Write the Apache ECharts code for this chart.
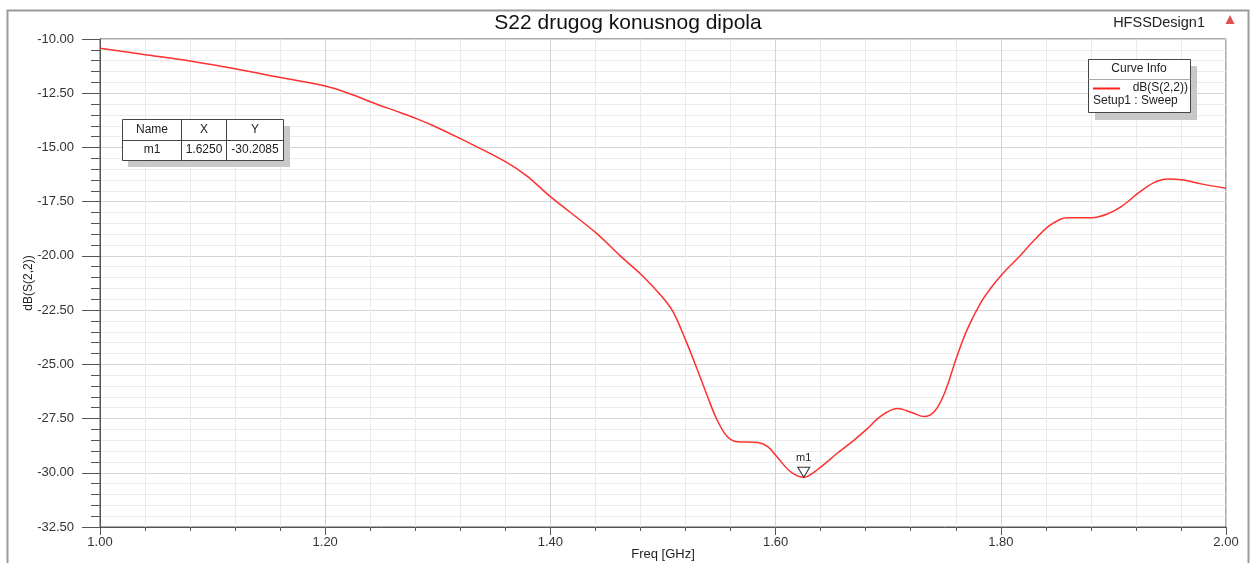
<!DOCTYPE html>
<html>
<head>
<meta charset="utf-8">
<script src="https://cdn.jsdelivr.net/npm/echarts@6/dist/echarts.min.js"></script>
<style>
html,body{margin:0;padding:0;background:#fff;}
#c{width:1251px;height:563px;}
</style>
</head>
<body>
<div id="c"></div>
<script>
var freq = [1.000,1.039,1.080,1.121,1.160,1.200,1.225,1.240,1.267,1.281,1.296,1.321,1.360,1.379,1.400,1.441,1.462,1.481,1.499,1.509,1.521,1.530,1.539,1.548,1.557,1.566,1.584,1.593,1.601,1.613,1.625,1.637,1.655,1.670,1.681,1.693,1.708,1.721,1.732,1.741,1.750,1.761,1.770,1.782,1.791,1.802,1.815,1.830,1.842,1.853,1.859,1.881,1.895,1.907,1.922,1.936,1.948,1.962,1.978,2.000];
var s22 = [-10.43,-10.71,-11.01,-11.38,-11.78,-12.17,-12.58,-12.89,-13.40,-13.67,-14.00,-14.62,-15.65,-16.31,-17.27,-18.96,-20.00,-20.88,-21.87,-22.58,-24.00,-25.18,-26.41,-27.56,-28.33,-28.57,-28.60,-28.79,-29.25,-29.94,-30.21,-29.86,-29.09,-28.48,-27.99,-27.41,-27.04,-27.22,-27.41,-27.18,-26.33,-24.64,-23.41,-22.18,-21.49,-20.80,-20.11,-19.26,-18.65,-18.31,-18.24,-18.24,-18.06,-17.73,-17.11,-16.62,-16.45,-16.50,-16.68,-16.88];
var markerNames = ['m1'];
var markerFreq = [1.6250];
var markerVal = [-30.2085];
var titleText = 'S22 drugog konusnog dipola';
var designName = 'HFSSDesign1';
var seriesName = 'dB(S(2,2))';
var setupName = 'Setup1 : Sweep';
var xName = 'Freq [GHz]';
var yName = 'dB(S(2,2))';

var FONT = '"Liberation Sans", Arial, sans-serif';
var chart = echarts.init(document.getElementById('c'), null, {renderer:'canvas'});

var lineData = freq.map(function(f,i){return [f, s22[i]];});
var mData = markerFreq.map(function(f,i){return {value:[f, markerVal[i]], name:markerNames[i]};});

function txt(x,y,t,align,size,weight){
  return {type:'text', x:x, y:y, style:{text:t, fill:'#222', font:(weight||'normal')+' '+(size||12)+'px '+FONT, textAlign:align||'center', textVerticalAlign:'middle'}, z:20};
}
function line(x1,y1,x2,y2,c,w){
  return {type:'line', shape:{x1:x1,y1:y1,x2:x2,y2:y2}, style:{stroke:c||'#555', lineWidth:w||1}, z:20};
}

var graphics = [
  {type:'rect', shape:{x:7.5,y:10.5,width:1241,height:560}, style:{fill:'none', stroke:'#9a9a9a', lineWidth:2}, z:1},
  {type:'text', x:628, y:23, style:{text:titleText, fill:'#111', font:'21px '+FONT, textAlign:'center', textVerticalAlign:'middle'}, z:20},
  {type:'text', x:1205, y:23, style:{text:designName, fill:'#222', font:'14.5px '+FONT, textAlign:'right', textVerticalAlign:'middle'}, z:20},
  {type:'polygon', shape:{points:[[1230,15],[1225.5,24],[1234.5,24]]}, style:{fill:'#e05050'}, z:20},
  // marker table
  {type:'rect', shape:{x:128,y:126,width:162,height:41}, style:{fill:'#c8c8c8'}, z:18},
  {type:'rect', shape:{x:122.5,y:119.5,width:161,height:41}, style:{fill:'#fff', stroke:'#444', lineWidth:1}, z:19},
  line(122.5,140.5,283.5,140.5,'#444'),
  line(181.5,119.5,181.5,160.5,'#444'),
  line(226.5,119.5,226.5,160.5,'#444'),
  txt(152,130,'Name'), txt(204,130,'X'), txt(255,130,'Y'),
  txt(152,150,markerNames[0]), txt(204,150,markerFreq[0].toFixed(4)), txt(255,150,markerVal[0].toFixed(4)),
  // curve info
  {type:'rect', shape:{x:1095,y:66,width:102,height:54}, style:{fill:'#c8c8c8'}, z:18},
  {type:'rect', shape:{x:1088.5,y:59.5,width:102,height:53}, style:{fill:'#fff', stroke:'#444', lineWidth:1}, z:19},
  line(1088.5,79.5,1190.5,79.5,'#aaa'),
  txt(1139,69,'Curve Info'),
  line(1093,88.5,1120,88.5,'#ff2020',2),
  txt(1188,88,seriesName,'right'),
  txt(1093,101,setupName,'left')
];

var option = {
  animation:false,
  backgroundColor:'#fff',
  grid:{left:100, right:25, top:39, bottom:36, show:true, borderColor:'#555', borderWidth:1, backgroundColor:'transparent', containLabel:false, outerBoundsMode:'none'},
  xAxis:{
    type:'value', min:1, max:2, interval:0.2,
    name:xName, nameLocation:'middle', nameGap:21, nameMoveOverlap:false,
    nameTextStyle:{color:'#222', fontSize:13, fontFamily:FONT},
    axisLine:{show:true, onZero:false, lineStyle:{color:'#555'}},
    axisTick:{show:true, inside:false, length:8, lineStyle:{color:'#555'}},
    minorTick:{show:true, splitNumber:5, length:4, lineStyle:{color:'#555'}},
    splitLine:{show:true, lineStyle:{color:'#d4d4d4'}},
    minorSplitLine:{show:true, lineStyle:{color:'#ebebeb'}},
    axisLabel:{color:'#333', fontSize:13, fontFamily:FONT, margin:9, formatter:function(v){return v.toFixed(2);}}
  },
  yAxis:{
    type:'value', min:-32.5, max:-10, interval:2.5,
    name:yName, nameLocation:'middle', nameGap:65, nameRotate:90, nameMoveOverlap:false,
    nameTextStyle:{color:'#222', fontSize:12, fontFamily:FONT},
    axisLine:{show:true, onZero:false, lineStyle:{color:'#555'}},
    axisTick:{show:true, inside:false, length:18, lineStyle:{color:'#555'}},
    minorTick:{show:true, splitNumber:5, length:9, lineStyle:{color:'#555'}},
    splitLine:{show:true, lineStyle:{color:'#d4d4d4'}},
    minorSplitLine:{show:true, lineStyle:{color:'#ebebeb'}},
    axisLabel:{color:'#333', fontSize:13, fontFamily:FONT, margin:26, formatter:function(v){return v.toFixed(2);}}
  },
  series:[
    {type:'line', name:seriesName, data:lineData, showSymbol:false, smooth:0.35,
     lineStyle:{color:'#ff3030', width:1.5}, z:5},
    {type:'scatter', data:mData, symbol:'path://M0,0 L12,0 L6,10 Z', symbolSize:[12,10], symbolOffset:[0,-5],
     itemStyle:{color:'#fff', borderColor:'#333', borderWidth:1, opacity:1},
     label:{show:true, position:'top', distance:3, formatter:function(p){return p.name;}, color:'#222', fontSize:11, fontFamily:FONT}, z:10}
  ],
  graphic:graphics
};
chart.setOption(option);
</script>
</body>
</html>
